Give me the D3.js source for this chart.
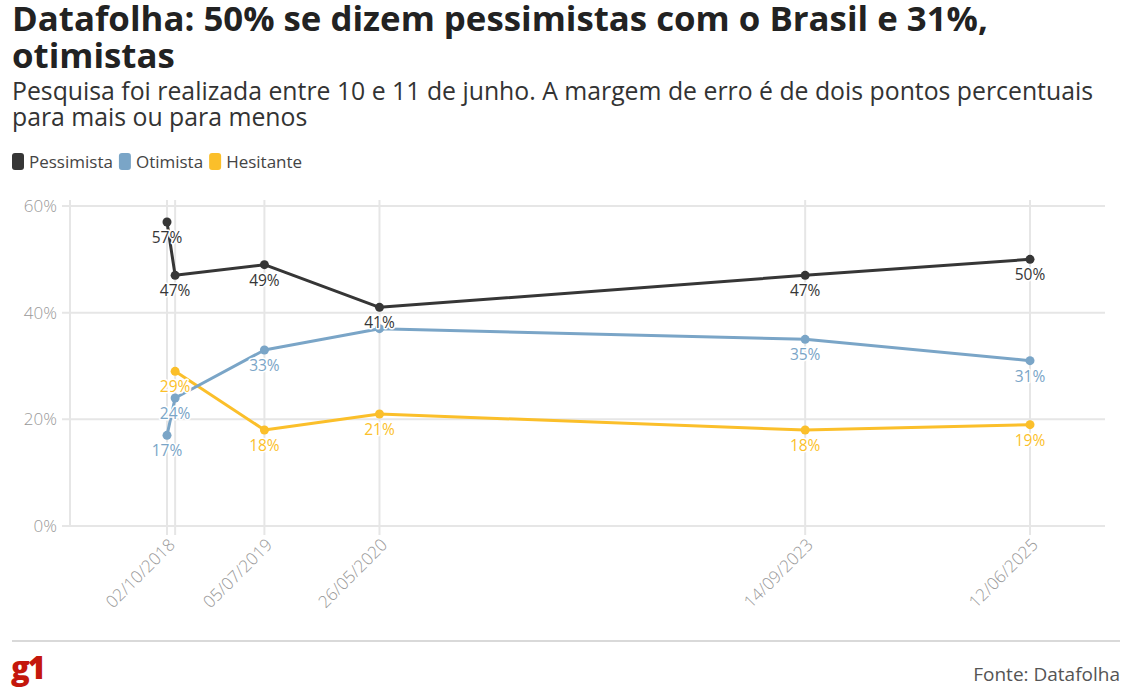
<!DOCTYPE html>
<html><head><meta charset="utf-8">
<script src="https://cdn.jsdelivr.net/npm/d3@7"></script>
<style>
body{margin:0;background:#fff;font-family:"Open Sans",sans-serif;}
svg{display:block;font-family:"Open Sans",sans-serif;}
</style></head>
<body><svg id="c" width="1123" height="693"></svg>
<script>
const dates = ["2018-10-02","2018-10-25","2019-07-05","2020-05-26","2023-09-14","2025-06-12"];
const tickDates = ["2018-10-02","2019-07-05","2020-05-26","2023-09-14","2025-06-12"];
const pessimista = [57,47,49,41,47,50];
const otimista = [17,24,33,37,35,31];
const hesitante = [null,29,18,21,18,19];
const yTicks = [0,20,40,60];
const seriesNames = ["Pessimista","Otimista","Hesitante"];
const colors = ["#363636","#7aa5c7","#fbbf2a"];
const hiddenLabels = {"Otimista":[3]};

const parse = d3.timeParse("%Y-%m-%d");
const fmt = d3.timeFormat("%d/%m/%Y");
const svg = d3.select("#c");

// title
svg.append("text").attr("x",12).attr("y",31).attr("font-size",34.8).attr("font-weight",700).attr("fill","#222")
  .text("Datafolha: 50% se dizem pessimistas com o Brasil e 31%,");
svg.append("text").attr("x",12).attr("y",68).attr("font-size",34.8).attr("font-weight",700).attr("fill","#222")
  .text("otimistas");
svg.append("text").attr("x",12).attr("y",100).attr("font-size",24.8).attr("fill","#333")
  .text("Pesquisa foi realizada entre 10 e 11 de junho. A margem de erro é de dois pontos percentuais");
svg.append("text").attr("x",12).attr("y",126).attr("font-size",24.8).attr("fill","#333")
  .text("para mais ou para menos");

// legend
const leg = svg.append("g");
let lx = 12;
seriesNames.forEach((n,i)=>{
  leg.append("rect").attr("x",lx).attr("y",153).attr("width",12).attr("height",17).attr("rx",3).attr("fill",colors[i]);
  const t = leg.append("text").attr("x",lx+17).attr("y",168).attr("font-size",17).attr("fill","#444").text(n);
  lx += 17 + t.node().getComputedTextLength() + 6;
});

const x = d3.scaleTime().domain([parse(dates[0]), parse(dates[dates.length-1])]).range([167,1030]);
const y = d3.scaleLinear().domain([0,60]).range([526,206]);
const left = 70, right = 1105;

const grid = svg.append("g");
grid.selectAll(".hg").data(yTicks).join("line")
  .attr("x1",62).attr("x2",right).attr("y1",d=>y(d)).attr("y2",d=>y(d))
  .attr("stroke","#e6e6e6").attr("stroke-width",2);
grid.append("line").attr("x1",left).attr("x2",left).attr("y1",200).attr("y2",526).attr("stroke","#e6e6e6").attr("stroke-width",2);
grid.selectAll(".vg").data(dates).join("line")
  .attr("x1",d=>x(parse(d))).attr("x2",d=>x(parse(d))).attr("y1",200).attr("y2",535)
  .attr("stroke","#e6e6e6").attr("stroke-width",2);

// y labels
svg.append("g").selectAll("text").data(yTicks).join("text")
  .attr("x",57).attr("y",d=>y(d)+6).attr("text-anchor","end").attr("font-size",17).attr("fill","#999")
  .attr("font-weight",300).text(d=>d+"%");

// x labels
svg.append("g").selectAll("text").data(tickDates).join("text")
  .attr("transform",d=>`translate(${x(parse(d))+9},${546}) rotate(-45)`)
  .attr("text-anchor","end").attr("font-size",17).attr("fill","#999").attr("font-weight",300)
  .text(d=>fmt(parse(d)));

const all = [pessimista, otimista, hesitante];
const line = d3.line().defined(d=>d.v!=null).x(d=>x(d.d)).y(d=>y(d.v));
const labelsG = svg.append("g");
[2,1,0].forEach(i=>{
  const data = dates.map((d,j)=>({d:parse(d), v:all[i][j], j}));
  svg.append("path").datum(data).attr("d",line).attr("fill","none").attr("stroke",colors[i])
    .attr("stroke-width",3).attr("stroke-linejoin","round");
  svg.append("g").selectAll("circle").data(data.filter(d=>d.v!=null)).join("circle")
    .attr("cx",d=>x(d.d)).attr("cy",d=>y(d.v)).attr("r",4.5).attr("fill",colors[i]);
});
[2,1,0].forEach(i=>{
  const data = dates.map((d,j)=>({d:parse(d), v:all[i][j], j}));
  const hid = hiddenLabels[seriesNames[i]]||[];
  labelsG.append("g").selectAll("text").data(data.filter(d=>d.v!=null && !hid.includes(d.j))).join("text")
    .attr("x",d=>x(d.d)).attr("y",d=>y(d.v)+21).attr("text-anchor","middle").attr("font-size",15.5)
    .attr("fill",colors[i]).attr("stroke","#fff").attr("stroke-width",3).attr("paint-order","stroke")
    .attr("stroke-linejoin","round")
    .text(d=>d.v+"%");
});
svg.node().appendChild(labelsG.node());

// footer
svg.append("line").attr("x1",12).attr("x2",1120).attr("y1",641).attr("y2",641).attr("stroke","#d9d9d9").attr("stroke-width",2);
svg.append("text").attr("x",11).attr("y",679).attr("font-size",31).attr("font-weight",800).attr("fill","#c4170c")
  .attr("letter-spacing",-2).text("g1");
svg.append("text").attr("x",1120).attr("y",681).attr("text-anchor","end").attr("font-size",19).attr("fill","#555")
  .text("Fonte: Datafolha");
</script></body></html>
